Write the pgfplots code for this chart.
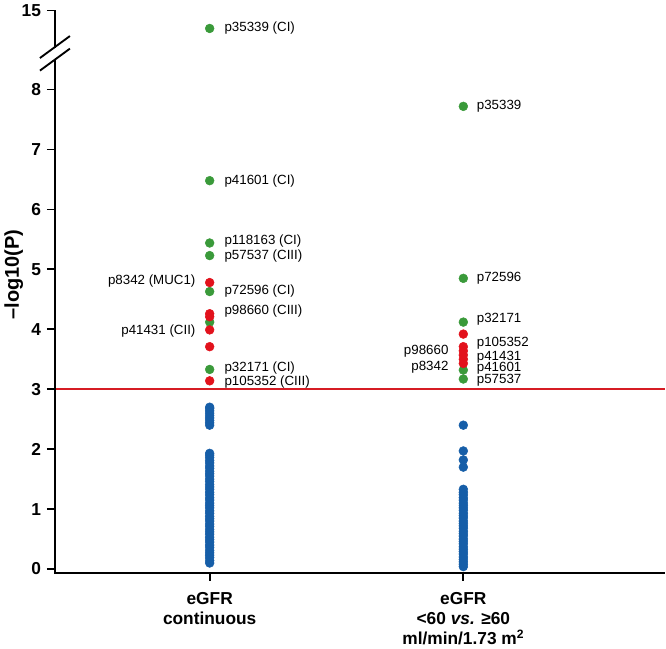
\documentclass[border=0pt]{standalone}
\usepackage{fontspec}
\setmainfont{Liberation Sans}
\usepackage{pgfplots}
\pgfplotsset{compat=1.18}
\definecolor{ptgreen}{RGB}{58,154,58}
\definecolor{ptred}{RGB}{226,18,28}
\definecolor{ptblue}{RGB}{22,94,168}
\definecolor{lineRed}{RGB}{214,28,36}

\begin{document}
\begin{tikzpicture}
\begin{axis}[
  scale only axis, width=458pt, height=422pt,
  xmin=0.39, xmax=2.795, ymin=-0.06, ymax=9.32,
  axis x line*=bottom, axis y line*=left,
  axis line style={line width=1.5pt},
  tick pos=left, tick align=outside, major tick length=6pt,
  major tick style={line width=1.3pt, black},
  xtick={1,2},
  xticklabels={{eGFR\\continuous},{eGFR\\<60 \textit{vs.} ≥60\\ml/min/1.73 m\textsuperscript{2}}},
  xticklabel style={align=center, font=\bfseries\fontsize{13}{15}\selectfont, yshift=-5pt},
  ytick={0,1,2,3,4,5,6,7,8,9.32},
  yticklabels={0,1,2,3,4,5,6,7,8,15},
  yticklabel style={font=\bfseries\fontsize{13}{15}\selectfont, xshift=-1pt},
  ylabel={–log10(P)},
  ylabel shift=-8pt,
  ylabel style={font=\bfseries\fontsize{15}{17}\selectfont, at={(ticklabel cs:0.53)}},
  clip=false,
  /pgf/number format/assume math mode=true,
]
% significance threshold
\addplot[color=lineRed, line width=1.3pt, mark=none] coordinates {(0.39,3) (2.795,3)};

% not significant
\addplot[only marks, mark=*, mark size=3.3pt, color=ptblue] coordinates {
(1,2.40) (1,2.44) (1,2.48) (1,2.52) (1,2.56) (1,2.60) (1,2.64) (1,2.68) (1,2.70)
(1,0.10) (1,0.14) (1,0.19) (1,0.23) (1,0.27) (1,0.31) (1,0.36) (1,0.40) (1,0.45)
(1,0.49) (1,0.53) (1,0.58) (1,0.62) (1,0.66) (1,0.71) (1,0.75) (1,0.80) (1,0.84)
(1,0.88) (1,0.93) (1,0.97) (1,1.02) (1,1.06) (1,1.10) (1,1.15) (1,1.19) (1,1.24)
(1,1.28) (1,1.33) (1,1.37) (1,1.41) (1,1.46) (1,1.50) (1,1.55) (1,1.59) (1,1.63)
(1,1.68) (1,1.72) (1,1.77) (1,1.81) (1,1.86) (1,1.90) (1,1.93)
(2,0.04) (2,0.08) (2,0.12) (2,0.16) (2,0.20) (2,0.25) (2,0.29) (2,0.33) (2,0.37)
(2,0.42) (2,0.46) (2,0.50) (2,0.55) (2,0.59) (2,0.63) (2,0.68) (2,0.72) (2,0.76)
(2,0.80) (2,0.85) (2,0.89) (2,0.93) (2,0.98) (2,1.02) (2,1.06) (2,1.10) (2,1.15)
(2,1.19) (2,1.24) (2,1.28) (2,1.33) (2,1.70) (2,1.82) (2,1.97) (2,2.40)
};

% green
\addplot[only marks, mark=*, mark size=3.3pt, color=ptgreen] coordinates {
(1,9.02) (1,6.48) (1,5.44) (1,5.23) (1,4.63) (1,4.12) (1,3.33)
(2,7.72) (2,4.85) (2,4.12) (2,3.32) (2,3.17)
};

% red
\addplot[only marks, mark=*, mark size=3.3pt, color=ptred] coordinates {
(1,4.78) (1,4.26) (1,4.21) (1,3.99) (1,3.71) (1,3.14)
(2,3.92) (2,3.71) (2,3.64) (2,3.57) (2,3.50) (2,3.43)
};

\tikzset{lbl/.style={font=\fontsize{10}{12}\selectfont, inner sep=0pt}}
% labels, continuous
\node[lbl, anchor=west, xshift=11pt] at (axis cs:1,9.02) {p35339 (CI)};
\node[lbl, anchor=west, xshift=11pt] at (axis cs:1,6.48) {p41601 (CI)};
\node[lbl, anchor=west, xshift=11pt] at (axis cs:1,5.47) {p118163 (CI)};
\node[lbl, anchor=west, xshift=11pt] at (axis cs:1,5.23) {p57537 (CIII)};
\node[lbl, anchor=east, xshift=-10.5pt] at (axis cs:1,4.80) {p8342 (MUC1)};
\node[lbl, anchor=west, xshift=11pt] at (axis cs:1,4.64) {p72596 (CI)};
\node[lbl, anchor=west, xshift=11pt] at (axis cs:1,4.31) {p98660 (CIII)};
\node[lbl, anchor=east, xshift=-10.5pt] at (axis cs:1,3.97) {p41431 (CII)};
\node[lbl, anchor=west, xshift=11pt] at (axis cs:1,3.36) {p32171 (CI)};
\node[lbl, anchor=west, xshift=11pt] at (axis cs:1,3.12) {p105352 (CIII)};

% labels, dichotomised
\node[lbl, anchor=west, xshift=10pt] at (axis cs:2,7.72) {p35339};
\node[lbl, anchor=west, xshift=10pt] at (axis cs:2,4.85) {p72596};
\node[lbl, anchor=west, xshift=10pt] at (axis cs:2,4.16) {p32171};
\node[lbl, anchor=west, xshift=10pt] at (axis cs:2,3.77) {p105352};
\node[lbl, anchor=west, xshift=10pt] at (axis cs:2,3.54) {p41431};
\node[lbl, anchor=west, xshift=10pt] at (axis cs:2,3.35) {p41601};
\node[lbl, anchor=west, xshift=10pt] at (axis cs:2,3.15) {p57537};
\node[lbl, anchor=east, xshift=-11pt] at (axis cs:2,3.64) {p98660};
\node[lbl, anchor=east, xshift=-11pt] at (axis cs:2,3.36) {p8342};

% heavier axis lines and category ticks
\draw[line width=1.5pt] (rel axis cs:0,1) -- (rel axis cs:0,0) -- (rel axis cs:1,0);
\draw[line width=1.3pt] (axis cs:1,-0.06) -- ([yshift=-6pt]axis cs:1,-0.06);
\draw[line width=1.3pt] (axis cs:2,-0.06) -- ([yshift=-6pt]axis cs:2,-0.06);

% axis break
\draw[white, line width=4pt] (axis cs:0.39,8.51) -- (axis cs:0.39,8.70);
\draw[line width=1.4pt] ([xshift=-11.25pt,yshift=-8.25pt]axis cs:0.39,8.71)
  -- ([xshift=11.25pt,yshift=8.25pt]axis cs:0.39,8.71);
\draw[line width=1.4pt] ([xshift=-11.25pt,yshift=-8.25pt]axis cs:0.39,8.50)
  -- ([xshift=11.25pt,yshift=8.25pt]axis cs:0.39,8.50);
\end{axis}
\end{tikzpicture}
\end{document}
